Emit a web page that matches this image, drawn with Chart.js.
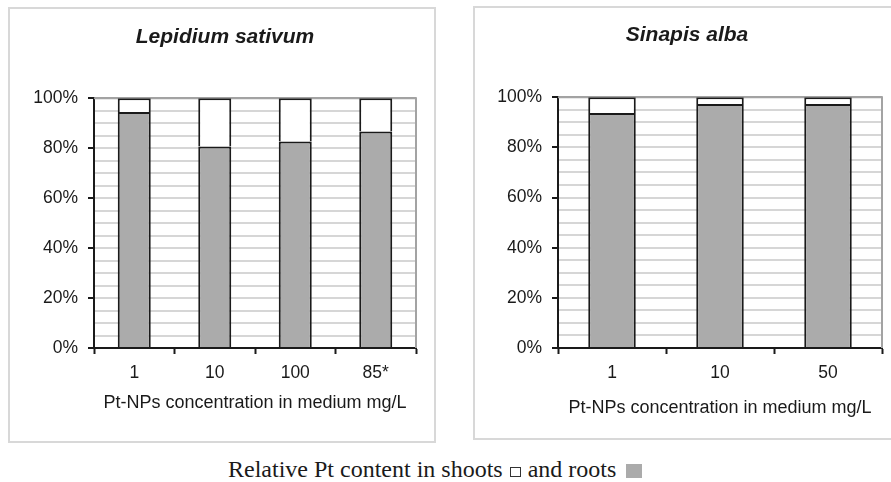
<!DOCTYPE html>
<html>
<head>
<meta charset="utf-8">
<script src="https://cdn.jsdelivr.net/npm/chart.js@4/dist/chart.umd.min.js"></script>
<style>
  html, body { margin: 0; padding: 0; background: #fff; width: 891px; height: 482px; overflow: hidden; position: relative; }
  .panel { position: absolute; border: 2px solid #d8d8d8; box-sizing: border-box; background: #fff; }
  #p1 { left: 8px; top: 7px; width: 428px; height: 436px; }
  #p2 { left: 473px; top: 6px; width: 430px; height: 434px; }
  .panel canvas { position: absolute; left: 0; top: 0; }
  #caption { position: absolute; left: 0; width: 891px; top: 455px; text-align: left; padding-left: 228px; box-sizing: border-box;
    font-family: "Liberation Serif", "Times New Roman", serif; font-size: 24px; color: #1a1a1a; white-space: nowrap; line-height: 28px; }
  .hollow { display: inline-block; width: 9px; height: 8px; border: 1px solid #333; vertical-align: 0px; margin: 0 1px; }
  .filled { display: inline-block; width: 16px; height: 14px; background: #ababab; vertical-align: -1px; margin-left: 4px; }
</style>
</head>
<body>
<div class="panel" id="p1"><canvas id="c1"></canvas></div>
<div class="panel" id="p2"><canvas id="c2"></canvas></div>
<div id="caption">Relative Pt content in shoots <span class="hollow"></span> and roots <span class="filled"></span></div>
<script>
// ---- data ----
const lepTitle = 'Lepidium sativum';
const lepCategories = ['1', '10', '100', '85*'];
const lepRoots = [94.5, 80.7, 82.7, 86.7];
const lepShoots = [5.5, 19.3, 17.3, 13.3];

const sinTitle = 'Sinapis alba';
const sinCategories = ['1', '10', '50'];
const sinRoots = [93.7, 97.3, 97.3];
const sinShoots = [6.3, 2.7, 2.7];

const xAxisTitle = 'Pt-NPs concentration in medium mg/L';
const yLabelStep = 20;
const yGridStep = 5;

// ---- styling ----
const FONT = '"Liberation Sans", Arial, sans-serif';
const TEXT = '#1a1a1a';

const plotFrame = {
  id: 'plotFrame',
  beforeDatasetsDraw(chart) {
    const {ctx, chartArea: a} = chart;
    ctx.save();
    ctx.strokeStyle = '#a3a3a3';
    ctx.lineWidth = 2;
    ctx.beginPath();
    ctx.moveTo(a.left, a.top);
    ctx.lineTo(a.right, a.top);
    ctx.lineTo(a.right, a.bottom);
    ctx.stroke();
    ctx.restore();
  }
};

function makeChart(id, w, h, cfg) {
  const canvas = document.getElementById(id);
  canvas.width = w; canvas.height = h;
  canvas.style.width = w + 'px'; canvas.style.height = h + 'px';
  return new Chart(canvas, {
    type: 'bar',
    data: {
      labels: cfg.labels,
      datasets: [
        { label: 'roots', data: cfg.roots, backgroundColor: '#ababab', borderColor: '#1a1a1a', borderWidth: 2, borderSkipped: 'start',
          barPercentage: cfg.barPct, categoryPercentage: 1 },
        { label: 'shoots', data: cfg.shoots, backgroundColor: '#ffffff', borderColor: '#1a1a1a', borderWidth: 2, borderSkipped: 'start',
          barPercentage: cfg.barPct, categoryPercentage: 1 }
      ]
    },
    options: {
      responsive: false,
      animation: false,
      devicePixelRatio: 1,
      layout: { padding: { left: cfg.padLeft, right: cfg.padRight, top: 0, bottom: 0 } },
      plugins: {
        legend: { display: false },
        tooltip: { enabled: false },
        title: {
          display: true, text: cfg.title, color: TEXT,
          font: { family: FONT, size: 21, weight: 'bold', style: 'italic' },
          padding: { top: cfg.titleTop, bottom: cfg.titleBottom }
        }
      },
      scales: {
        x: {
          stacked: true,
          afterFit(s) { s.height = cfg.xHeight; },
          grid: { display: true, drawOnChartArea: false, drawTicks: true, tickLength: 6, tickColor: '#1a1a1a', tickWidth: 2, offset: true },
          border: { display: true, color: '#1a1a1a', width: 2 },
          ticks: { color: TEXT, font: { family: FONT, size: 17.5 }, padding: 9 },
          title: { display: true, text: xAxisTitle, color: TEXT, font: { family: FONT, size: 18 }, padding: { top: 0, bottom: cfg.xTitleBottom } }
        },
        y: {
          stacked: true, min: 0, max: 100,
          afterFit(s) { s.width = cfg.yWidth; },
          grid: {
            drawTicks: true, tickLength: 6, tickWidth: 2,
            tickColor: (c) => (c.tick && c.tick.value % yLabelStep === 0) ? '#1a1a1a' : 'rgba(0,0,0,0)',
            color: (c) => (c.tick && c.tick.value === 100) ? '#a3a3a3' : '#d6d6d6',
            lineWidth: 2
          },
          border: { display: true, color: '#1a1a1a', width: 2 },
          ticks: {
            stepSize: yGridStep, autoSkip: false, color: TEXT, padding: 10,
            font: { family: FONT, size: 17.5 },
            callback: (v) => (v % yLabelStep === 0) ? v + '%' : ''
          }
        }
      }
    },
    plugins: [plotFrame]
  });
}

makeChart('c1', 424, 432, {
  labels: lepCategories, roots: lepRoots, shoots: lepShoots, title: lepTitle,
  barPct: 0.41, padLeft: 24, padRight: 18, yWidth: 60, xHeight: 93,
  titleTop: 16, titleBottom: 48, xTitleBottom: 27
});
makeChart('c2', 426, 430, {
  labels: sinCategories, roots: sinRoots, shoots: sinShoots, title: sinTitle,
  barPct: 0.44, padLeft: 17, padRight: 19, yWidth: 66, xHeight: 90,
  titleTop: 15, titleBottom: 49, xTitleBottom: 19
});
</script>
</body>
</html>
